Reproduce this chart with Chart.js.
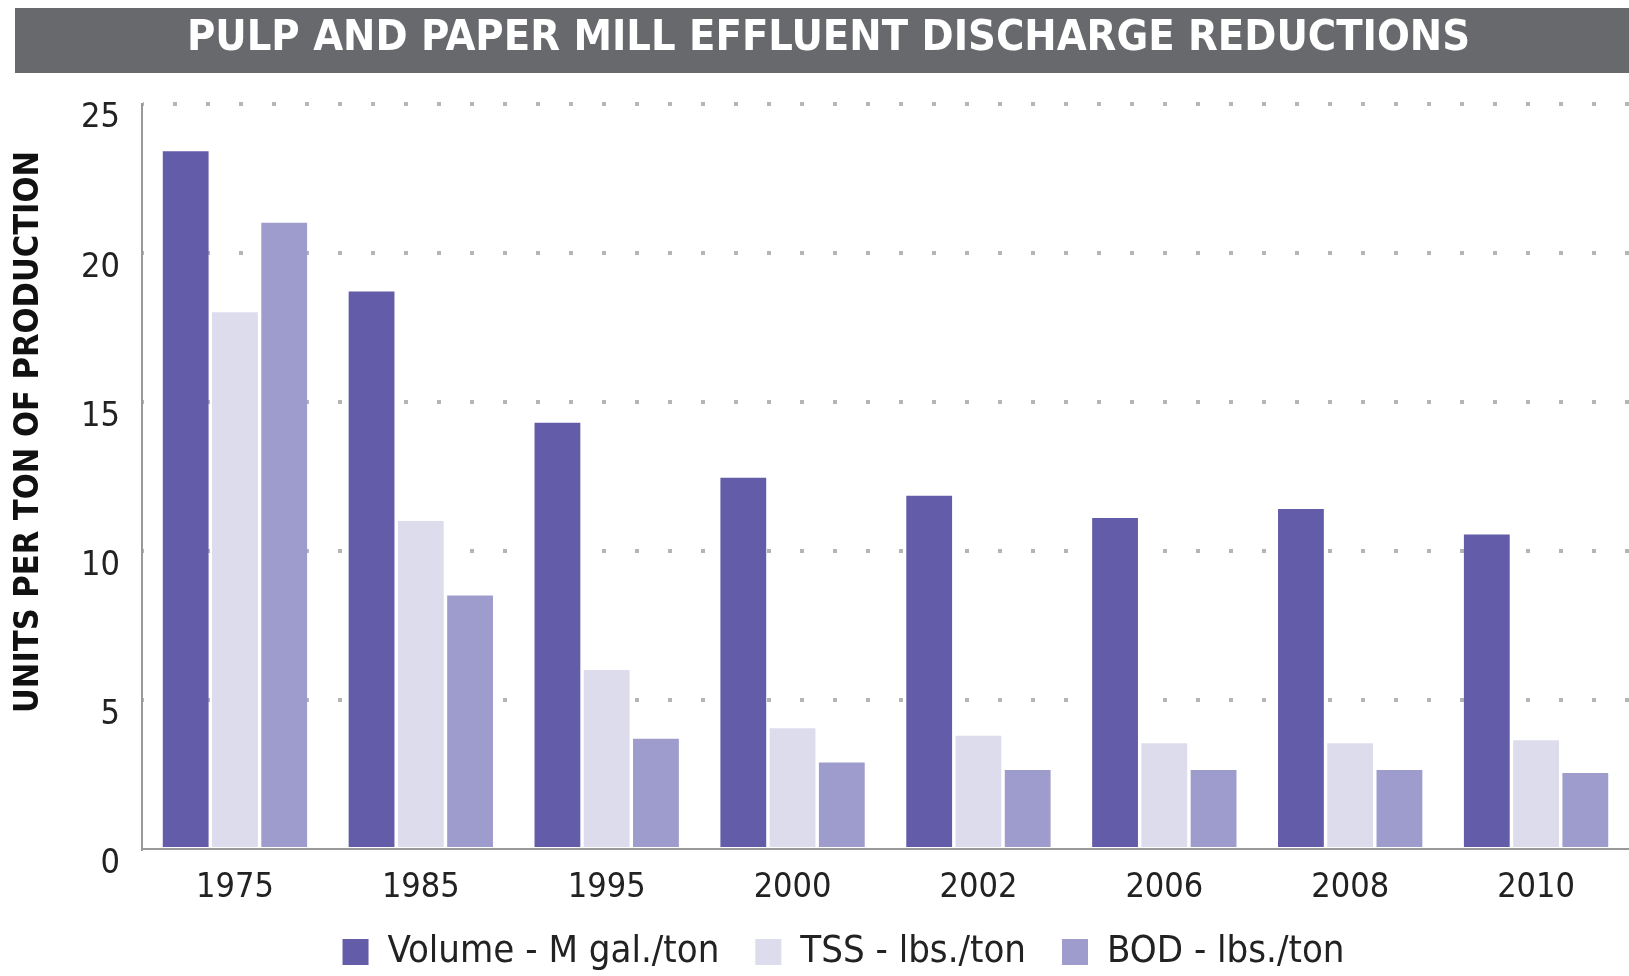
<!DOCTYPE html>
<html>
<head>
<meta charset="utf-8">
<script src="https://cdn.jsdelivr.net/npm/chart.js@4.4.1/dist/chart.umd.min.js"></script>
<style>
  html, body { margin: 0; padding: 0; background: #fff; }
  #wrap { width: 1629px; height: 976px; position: relative; }
</style>
</head>
<body>
<div id="wrap"><canvas id="chart"></canvas></div>
<script>
const years = ['1975', '1985', '1995', '2000', '2002', '2006', '2008', '2010'];
const volume = [23.4, 18.7, 14.3, 12.45, 11.85, 11.1, 11.4, 10.55];
const tss = [18.0, 11.0, 6.0, 4.05, 3.8, 3.55, 3.55, 3.65];
const bod = [21.0, 8.5, 3.7, 2.9, 2.65, 2.65, 2.65, 2.55];
const seriesNames = ['Volume - M gal./ton', 'TSS - lbs./ton', 'BOD - lbs./ton'];
const yTicks = [0, 5, 10, 15, 20, 25];
const yTitle = 'UNITS PER TON OF PRODUCTION';

const FONT = '"DejaVu Sans Condensed", "Liberation Sans", sans-serif';

// grey band behind the title, the rotated axis title, and small nudges
// so title/legend sit where the original has them
const decorations = {
  id: 'decorations',
  afterLayout(chart) {
    if (chart.titleBlock) { chart.titleBlock.left += 14; chart.titleBlock.right += 14; }
    if (chart.legend) { chart.legend.left += 29; chart.legend.right += 29; }
  },
  beforeDraw(chart) {
    const t = chart.titleBlock;
    if (!t) return;
    const ctx = chart.ctx;
    ctx.save();
    ctx.fillStyle = '#67696c';
    ctx.fillRect(15, t.top, chart.width - 15, 65);
    ctx.restore();
  },
  afterDraw(chart) {
    const ctx = chart.ctx;
    ctx.save();
    ctx.translate(29, 432);
    ctx.rotate(-Math.PI / 2);
    ctx.textAlign = 'center';
    ctx.textBaseline = 'middle';
    ctx.font = 'bold 34px ' + FONT;
    ctx.fillStyle = '#111';
    ctx.fillText(yTitle, 0, 0);
    ctx.restore();
  }
};

new Chart(document.getElementById('chart'), {
  type: 'bar',
  data: {
    labels: years,
    datasets: [
      { label: seriesNames[0], data: volume, backgroundColor: '#635ca9' },
      { label: seriesNames[1], data: tss, backgroundColor: '#dcdcec' },
      { label: seriesNames[2], data: bod, backgroundColor: '#9e9bcd' }
    ]
  },
  options: {
    responsive: true,
    maintainAspectRatio: false,
    animation: false,
    datasets: { bar: { categoryPercentage: 0.795, barPercentage: 0.93 } },
    layout: { padding: { top: 8, right: 0, bottom: -5, left: 0 } },
    plugins: {
      title: {
        display: true,
        text: 'PULP AND PAPER MILL EFFLUENT DISCHARGE REDUCTIONS',
        color: '#ffffff',
        font: { family: FONT, size: 43, weight: 'bold', lineHeight: 1.2 },
        padding: { top: 5, bottom: 39 }
      },
      legend: {
        position: 'bottom',
        labels: {
          boxWidth: 26,
          boxHeight: 26,
          padding: 36,
          color: '#222',
          font: { family: FONT, size: 38 }
        }
      },
      tooltip: { enabled: false }
    },
    scales: {
      x: {
        afterFit(scale) { scale.height = 48; },
        grid: { display: false, drawTicks: false },
        border: { display: true, color: '#999999', width: 2 },
        ticks: { color: '#222', padding: 19, font: { family: FONT, size: 34, lineHeight: 1.2 } }
      },
      y: {
        min: yTicks[0],
        max: yTicks[yTicks.length - 1],
        afterBuildTicks(scale) { scale.ticks = yTicks.map(v => ({ value: v })); },
        afterFit(scale) { scale.width = 142; },
        ticks: { color: '#222', padding: 22, labelOffset: 15, font: { family: FONT, size: 34 } },
        grid: {
          drawTicks: false,
          lineWidth: 4,
          color: ctx => ctx.tick && ctx.tick.value === 0 ? 'rgba(0,0,0,0)' : '#b5b5b5'
        },
        border: { display: true, color: '#999999', width: 2, dash: [4, 29], dashOffset: 3 }
      }
    }
  },
  plugins: [decorations]
});
</script>
</body>
</html>
